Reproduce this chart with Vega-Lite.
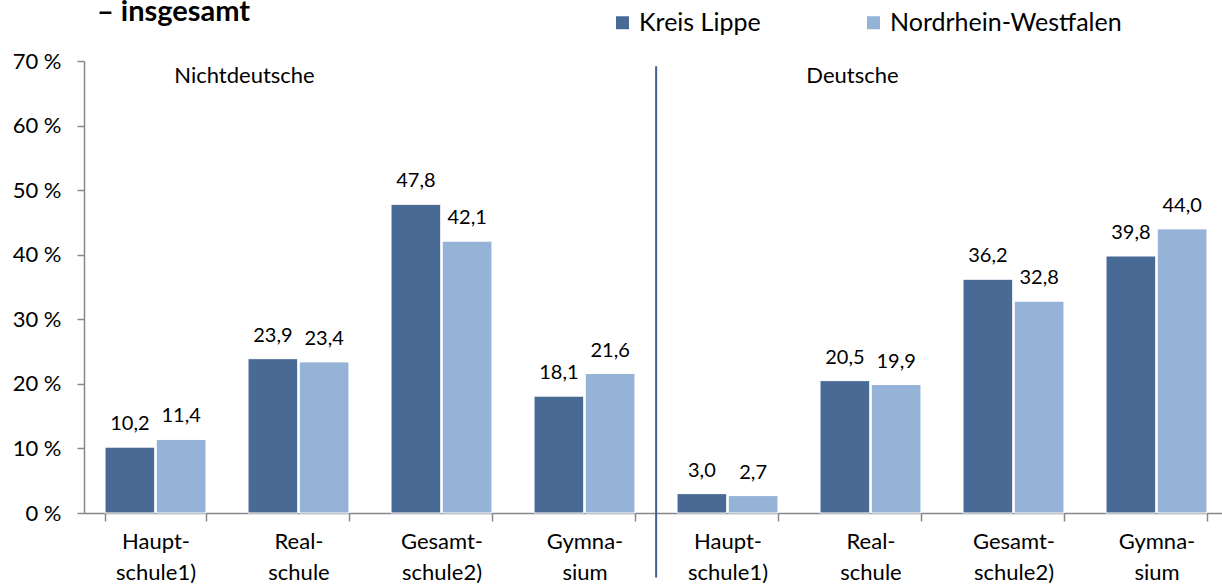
{
  "$schema": "https://vega.github.io/schema/vega-lite/v6.json",
  "width": 1144,
  "height": 452,
  "autosize": {"type": "none"},
  "padding": {"left": 84, "top": 61, "right": 0, "bottom": 73},
  "background": "white",
  "config": {
    "view": {"stroke": null},
    "font": "Lato",
    "locale": {"number": {"decimal": ",", "thousands": ".", "grouping": [3], "currency": ["", " €"]}}
  },
  "title": {
    "text": "– insgesamt",
    "anchor": "start",
    "frame": "group",
    "baseline": "alphabetic",
    "dx": 13,
    "dy": 68,
    "offset": 28,
    "fontSize": 29,
    "fontWeight": "bold",
    "font": "Lato",
    "color": "#000000"
  },
  "datasets": {
    "bars": [
      {"cat": "N1:Haupt-|schule1)", "region": "Kreis Lippe", "value": 10.2},
      {"cat": "N1:Haupt-|schule1)", "region": "Nordrhein-Westfalen", "value": 11.4},
      {"cat": "N2:Real-|schule", "region": "Kreis Lippe", "value": 23.9},
      {"cat": "N2:Real-|schule", "region": "Nordrhein-Westfalen", "value": 23.4},
      {"cat": "N3:Gesamt-|schule2)", "region": "Kreis Lippe", "value": 47.8},
      {"cat": "N3:Gesamt-|schule2)", "region": "Nordrhein-Westfalen", "value": 42.1},
      {"cat": "N4:Gymna-|sium", "region": "Kreis Lippe", "value": 18.1},
      {"cat": "N4:Gymna-|sium", "region": "Nordrhein-Westfalen", "value": 21.6},
      {"cat": "D1:Haupt-|schule1)", "region": "Kreis Lippe", "value": 3.0},
      {"cat": "D1:Haupt-|schule1)", "region": "Nordrhein-Westfalen", "value": 2.7},
      {"cat": "D2:Real-|schule", "region": "Kreis Lippe", "value": 20.5},
      {"cat": "D2:Real-|schule", "region": "Nordrhein-Westfalen", "value": 19.9},
      {"cat": "D3:Gesamt-|schule2)", "region": "Kreis Lippe", "value": 36.2},
      {"cat": "D3:Gesamt-|schule2)", "region": "Nordrhein-Westfalen", "value": 32.8},
      {"cat": "D4:Gymna-|sium", "region": "Kreis Lippe", "value": 39.8},
      {"cat": "D4:Gymna-|sium", "region": "Nordrhein-Westfalen", "value": 44.0}
    ],
    "group1": [
      {"cat": "N2:Real-|schule", "label": "Nichtdeutsche"}
    ],
    "group2": [
      {"cat": "D2:Real-|schule", "label": "Deutsche"}
    ],
    "divider": [
      {"cat": "D1:Haupt-|schule1)"}
    ]
  },
  "data": {"name": "bars"},
  "encoding": {
    "x": {
      "field": "cat",
      "type": "nominal",
      "sort": null,
      "scale": {"paddingInner": 0.294, "paddingOuter": 0.147},
      "axis": {
        "title": null,
        "labelAngle": 0,
        "labelExpr": "split(slice(datum.label, 3), '|')",
        "labelFontSize": 22,
        "labelColor": "#000000",
        "labelLineHeight": 31,
        "labelPadding": 10,
        "labelFont": "Lato",
        "tickBand": "extent",
        "tickSize": 8,
        "tickColor": "#888888",
        "tickWidth": 1.5,
        "domainColor": "#888888",
        "domainWidth": 1.5
      }
    }
  },
  "layer": [
    {
      "mark": {"type": "bar", "stroke": "white", "strokeWidth": 1},
      "encoding": {
        "xOffset": {"field": "region", "type": "nominal", "scale": {"paddingInner": 0.03}},
        "y": {
          "field": "value",
          "type": "quantitative",
          "scale": {"domain": [0, 70]},
          "axis": {
            "title": null,
            "values": [0, 10, 20, 30, 40, 50, 60, 70],
            "labelExpr": "datum.value + ' %'",
            "grid": false,
            "labelFontSize": 22,
            "labelColor": "#000000",
            "labelPadding": 16,
            "labelFont": "Lato",
            "tickSize": 7,
            "tickColor": "#888888",
            "tickWidth": 1.5,
            "domainColor": "#888888",
            "domainWidth": 1.5
          }
        },
        "color": {
          "field": "region",
          "type": "nominal",
          "scale": {"domain": ["Kreis Lippe", "Nordrhein-Westfalen"], "range": ["#4a6a96", "#95b3d7"]},
          "legend": {
            "title": null,
            "orient": "none",
            "direction": "horizontal",
            "legendX": 526,
            "legendY": -51,
            "symbolType": "square",
            "symbolSize": 169,
            "symbolStrokeWidth": 0,
            "labelFontSize": 25,
            "labelFont": "Lato",
            "labelColor": "#000000",
            "labelLimit": 400,
            "columnPadding": 100,
            "labelOffset": 4
          }
        }
      }
    },
    {
      "mark": {"type": "text", "baseline": "alphabetic", "dy": -17, "fontSize": 20, "font": "Lato", "color": "#000000"},
      "encoding": {
        "xOffset": {"field": "region", "type": "nominal", "scale": {"paddingInner": 0.03}},
        "y": {"field": "value", "type": "quantitative"},
        "text": {"field": "value", "type": "quantitative", "format": ".1f"}
      }
    },
    {
      "data": {"name": "divider"},
      "mark": {"type": "rule", "color": "#3f5f8f", "strokeWidth": 2},
      "encoding": {
        "x": {"field": "cat", "type": "nominal", "bandPosition": -0.207},
        "y": {"datum": 69.2},
        "y2": {"datum": -10}
      }
    },
    {
      "data": {"name": "group1"},
      "mark": {"type": "text", "fontSize": 22, "font": "Lato", "color": "#000000", "baseline": "alphabetic", "dx": -54},
      "encoding": {
        "x": {"field": "cat", "type": "nominal"},
        "y": {"datum": 66.6},
        "text": {"field": "label"}
      }
    },
    {
      "data": {"name": "group2"},
      "mark": {"type": "text", "fontSize": 22, "font": "Lato", "color": "#000000", "baseline": "alphabetic", "dx": -18},
      "encoding": {
        "x": {"field": "cat", "type": "nominal"},
        "y": {"datum": 66.6},
        "text": {"field": "label"}
      }
    }
  ]
}
